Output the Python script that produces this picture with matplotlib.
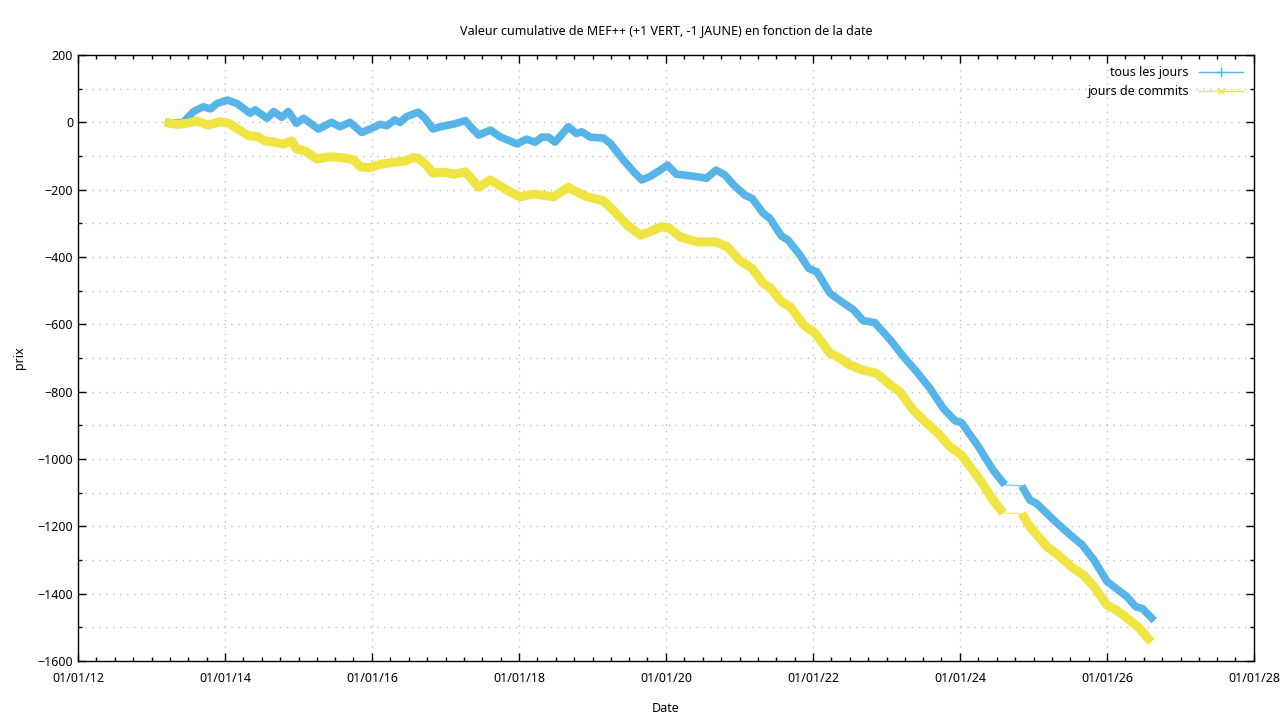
import datetime as dt
import matplotlib
matplotlib.use('Agg')
import matplotlib.pyplot as plt
import matplotlib.dates as mdates
from matplotlib.lines import Line2D
from matplotlib.ticker import MultipleLocator

plt.rcParams['font.family'] = ['Noto Sans', 'DejaVu Sans']
plt.rcParams['font.size'] = 9

BLUE = '#56B4E9'
YELLOW = '#F0E442'

# dates as decimal years
blue_years = [2013.18, 2013.30, 2013.43, 2013.57, 2013.70, 2013.80, 2013.89, 2014.03, 2014.16,
              2014.34, 2014.41, 2014.57, 2014.66, 2014.77, 2014.86, 2014.97, 2015.07, 2015.27,
              2015.45, 2015.56, 2015.70, 2015.86, 2015.97, 2016.11, 2016.20, 2016.31, 2016.38,
              2016.47, 2016.63, 2016.72, 2016.83, 2016.93, 2017.11, 2017.27, 2017.36, 2017.45,
              2017.61, 2017.74, 2017.97, 2018.10, 2018.22, 2018.31, 2018.40, 2018.49, 2018.67,
              2018.78, 2018.85, 2018.97, 2019.15, 2019.24, 2019.42, 2019.56, 2019.67, 2019.78,
              2019.92, 2020.02, 2020.14, 2020.37, 2020.55, 2020.68, 2020.80, 2020.92, 2021.07,
              2021.17, 2021.32, 2021.41, 2021.57, 2021.66, 2021.82, 2021.94, 2022.05, 2022.23,
              2022.37, 2022.55, 2022.68, 2022.84, 2023.05, 2023.23, 2023.41, 2023.59, 2023.77,
              2023.93, 2024.02, 2024.25, 2024.45, 2024.61, 2024.84, 2024.95, 2025.04, 2025.27,
              2025.50, 2025.66, 2025.82, 2026.00, 2026.09, 2026.27, 2026.39, 2026.48, 2026.64]
blue_vals = [0, -2, 0, 32, 46, 40, 56, 66, 56,
             27, 37, 12, 32, 15, 32, -3, 12, -20,
             0, -13, 0, -30, -20, -6, -10, 7, 0,
             17, 30, 12, -20, -13, -5, 5, -18, -38,
             -23, -43, -64, -50, -59, -44, -44, -59, -13,
             -33, -28, -44, -47, -62, -112, -147, -171, -161,
             -142, -127, -154, -160, -166, -142, -156, -186, -216,
             -226, -270, -285, -338, -350, -394, -434, -444, -508,
             -530, -557, -589, -595, -646, -696, -741, -790, -849,
             -886, -892, -963, -1033, -1077, -1080, -1122, -1132, -1181,
             -1226, -1255, -1300, -1364, -1379, -1409, -1439, -1444, -1480]

yellow_years = [2013.18, 2013.34, 2013.48, 2013.61, 2013.77, 2013.93, 2014.05, 2014.16, 2014.32,
                2014.45, 2014.54, 2014.68, 2014.79, 2014.91, 2014.97, 2015.09, 2015.25, 2015.43,
                2015.66, 2015.75, 2015.84, 2015.97, 2016.11, 2016.29, 2016.45, 2016.56, 2016.63,
                2016.74, 2016.83, 2016.97, 2017.11, 2017.27, 2017.45, 2017.61, 2017.83, 2018.01,
                2018.20, 2018.47, 2018.67, 2018.78, 2018.92, 2019.15, 2019.28, 2019.47, 2019.65,
                2019.78, 2019.94, 2020.05, 2020.19, 2020.42, 2020.67, 2020.83, 2021.00, 2021.17,
                2021.32, 2021.41, 2021.57, 2021.69, 2021.87, 2022.03, 2022.23, 2022.37, 2022.50,
                2022.68, 2022.86, 2023.05, 2023.18, 2023.36, 2023.50, 2023.68, 2023.86, 2024.02,
                2024.27, 2024.45, 2024.59, 2024.84, 2024.95, 2025.18, 2025.36, 2025.54, 2025.68,
                2025.82, 2026.00, 2026.13, 2026.31, 2026.44, 2026.60]
yellow_vals = [0, -6, -3, 4, -8, 2, -3, -18, -40,
               -43, -55, -59, -65, -55, -79, -85, -109, -102,
               -107, -112, -132, -135, -125, -119, -115, -105, -107,
               -127, -151, -148, -154, -147, -193, -171, -201, -221,
               -213, -221, -193, -206, -221, -233, -261, -305, -335,
               -325, -310, -315, -340, -355, -355, -369, -410, -434,
               -478, -490, -533, -548, -602, -627, -686, -701, -721,
               -736, -745, -780, -800, -854, -884, -919, -963, -988,
               -1062, -1122, -1161, -1162, -1201, -1260, -1290, -1325, -1345,
               -1379, -1434, -1449, -1479, -1503, -1543]

# days with no data (thin connecting line only)
gap_from, gap_to = 2024.62, 2024.83


def to_date(y):
    year = int(y)
    return dt.datetime(year, 1, 1) + dt.timedelta(days=(y - year) * 365.25)


def draw(ax, years, vals, color, lw):
    d = [to_date(y) for y in years]
    ax.plot(d, vals, color=color, lw=1, alpha=0.7)
    before = [(a, v) for y, a, v in zip(years, d, vals) if y <= gap_from]
    after = [(a, v) for y, a, v in zip(years, d, vals) if y >= gap_to]
    for seg in (before, after):
        xs, ys = zip(*seg)
        ax.plot(xs, ys, color=color, lw=lw, solid_capstyle='butt', solid_joinstyle='round')


fig = plt.figure(figsize=(12.8, 7.2), dpi=100)
ax = fig.add_axes([78 / 1280, 59 / 720, 1176 / 1280, 606 / 720])

draw(ax, blue_years, blue_vals, BLUE, 5.5)
draw(ax, yellow_years, yellow_vals, YELLOW, 6.5)

ax.set_xlim(dt.datetime(2012, 1, 1), dt.datetime(2028, 1, 1))
ax.set_ylim(-1600, 200)
ax.xaxis.set_major_locator(mdates.YearLocator(2))
ax.xaxis.set_minor_locator(mdates.MonthLocator(bymonth=[1, 4, 7, 10]))
ax.xaxis.set_major_formatter(mdates.DateFormatter('%d/%m/%y'))
ax.yaxis.set_major_locator(MultipleLocator(200))
ax.yaxis.set_minor_locator(MultipleLocator(100))

ax.tick_params(which='both', direction='in', top=True, right=True, colors='black', labelsize=9)
ax.tick_params(which='major', length=6, width=1)
ax.tick_params(which='minor', length=3, width=1)
ax.tick_params(axis='x', pad=8)

grid_kw = dict(color='#c0c0c0', linestyle=(0, (1, 4)), linewidth=1)
ax.grid(True, which='major', axis='x', **grid_kw)
ax.grid(True, which='both', axis='y', **grid_kw)
for s in ax.spines.values():
    s.set_linewidth(1)
    s.set_color('black')

ax.set_title('Valeur cumulative de MEF++ (+1 VERT, -1 JAUNE) en fonction de la date', pad=15, fontsize=9)
ax.set_xlabel('Date', labelpad=12)
ax.set_ylabel('prix', labelpad=8)

handles = [Line2D([], [], color=BLUE, lw=1, marker='+', markersize=7),
           Line2D([], [], color=YELLOW, lw=1, marker='x', markersize=5)]
ax.legend(handles, ['tous les jours', 'jours de commits'], loc='upper right', frameon=False,
          markerfirst=False, handlelength=3.5, fontsize=9, borderaxespad=0.5,
          labelspacing=0.45)

fig.savefig('out.png', dpi=100)
